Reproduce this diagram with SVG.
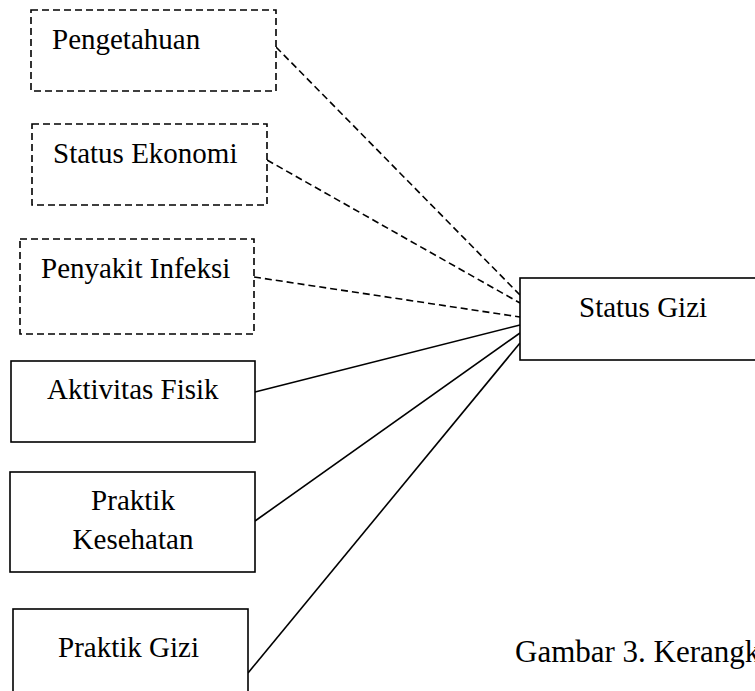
<svg xmlns="http://www.w3.org/2000/svg" width="755" height="691" viewBox="0 0 755 691">
<style>
.box{fill:#fff;stroke:#000;stroke-width:1.6}
.dash{stroke-dasharray:7 4}
.t{font-family:"Liberation Serif","Times New Roman",serif;font-size:29px;fill:#000}
.c{text-anchor:middle}
.ln{stroke:#000;stroke-width:1.6;fill:none}
</style>
<rect width="755" height="691" fill="#fff"/>
<g id="connectors">
<line class="ln dash" x1="276" y1="47" x2="520" y2="295"/>
<line class="ln dash" x1="267" y1="160" x2="520" y2="303"/>
<line class="ln dash" x1="254" y1="277" x2="520" y2="317"/>
<line class="ln" x1="255" y1="392" x2="520" y2="325"/>
<line class="ln" x1="255" y1="521" x2="520" y2="333"/>
<line class="ln" x1="248" y1="673" x2="520" y2="343"/>
</g>
<g id="pengetahuan">
<rect class="box dash" x="31" y="10" width="245" height="81"/>
<text class="t" x="52" y="49">Pengetahuan</text>
</g>
<g id="status-ekonomi">
<rect class="box dash" x="32" y="124" width="235" height="81"/>
<text class="t" x="53" y="163">Status Ekonomi</text>
</g>
<g id="penyakit-infeksi">
<rect class="box dash" x="20" y="239" width="234" height="95"/>
<text class="t" x="41" y="278">Penyakit Infeksi</text>
</g>
<g id="aktivitas-fisik">
<rect class="box" x="11" y="361" width="244" height="81"/>
<text class="t" x="47" y="399">Aktivitas Fisik</text>
</g>
<g id="praktik-kesehatan">
<rect class="box" x="10" y="472" width="245" height="100"/>
<text class="t c" x="133" y="510">Praktik</text>
<text class="t c" x="133" y="549">Kesehatan</text>
</g>
<g id="praktik-gizi">
<rect class="box" x="13" y="609" width="235" height="100"/>
<text class="t" x="58" y="657">Praktik Gizi</text>
</g>
<g id="status-gizi">
<rect class="box" x="520" y="278" width="260" height="82"/>
<text class="t" x="579" y="317">Status Gizi</text>
</g>
<text class="t" x="515" y="662" style="font-size:31px">Gambar 3. Kerangka</text>
</svg>
